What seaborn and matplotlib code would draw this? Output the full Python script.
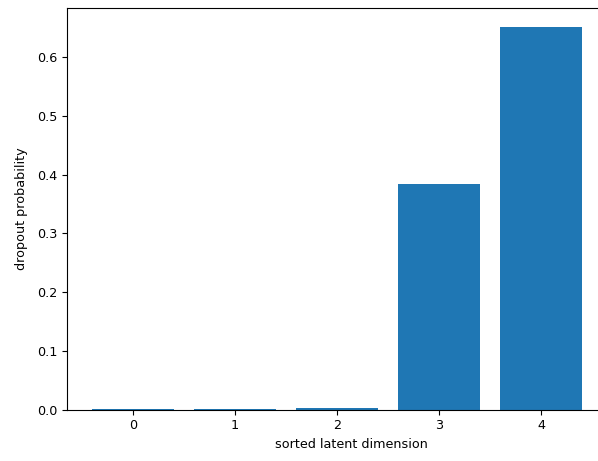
import numpy as np
import pandas as pd
import seaborn as sns
import matplotlib
matplotlib.use("Agg")
import matplotlib.pyplot as plt

# Data
dims = ["0", "1", "2", "3", "4"]
dropout_prob = [0.0006, 0.0006, 0.003, 0.384, 0.651]

df = pd.DataFrame({"dim": dims, "prob": dropout_prob})

plt.rcParams.update({
    "font.size": 9.2,
    "axes.linewidth": 0.8,
})

fig = plt.figure(figsize=(5.98, 4.61), dpi=100)
# the reference is cropped: the axes runs past the right edge of the image
left, right, top, bottom = 67.4, 635.0, 8.0, 409.5
ax = fig.add_axes([left / 598, (461 - bottom) / 461, (right - left) / 598, (bottom - top) / 461])
sns.barplot(data=df, x="dim", y="prob", order=dims, color="#1f77b4",
            saturation=1, width=0.8, ax=ax)
ax.set_xlabel("sorted latent dimension")
ax.set_ylabel("dropout probability", labelpad=7)
ax.spines["right"].set_visible(False)
ax.set_xlim(-0.64, 4.92)
ax.set_ylim(0, 0.651 * 1.05)
fig.savefig("out.png", dpi=100)
